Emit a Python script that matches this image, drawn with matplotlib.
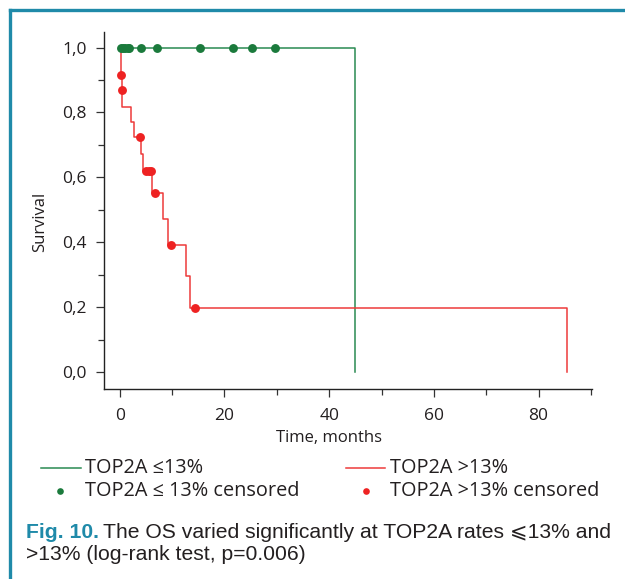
import matplotlib
matplotlib.use("Agg")
import matplotlib.pyplot as plt
from matplotlib.lines import Line2D
from matplotlib.ticker import FixedLocator, FuncFormatter

# ---- data ----
low_line_t = [0.0, 45.0, 45.0]
low_line_s = [1.0, 1.0, 0.0]
low_cens_t = [0.3, 0.7, 1.1, 1.5, 1.8, 4.0, 7.2, 15.3, 21.7, 25.3, 29.7]
low_cens_s = [1.0] * 11

high_step_t = [0.0, 0.30, 0.35, 0.40, 2.2, 2.8, 4.05, 4.4, 6.2, 8.3, 9.2, 12.6, 13.5, 85.4]
high_step_s = [1.0, 0.914, 0.868, 0.818, 0.772, 0.724, 0.672, 0.621, 0.552, 0.472, 0.393, 0.295, 0.197, 0.0]
high_cens_t = [0.33, 0.38, 3.9, 5.0, 5.5, 6.0, 6.7, 9.8, 14.4]
high_cens_s = [0.914, 0.868, 0.724, 0.621, 0.621, 0.621, 0.552, 0.393, 0.197]

x_major = [0, 20, 40, 60, 80]
x_minor = [10, 30, 50, 70, 90]
y_major = [0.0, 0.2, 0.4, 0.6, 0.8, 1.0]
y_minor = [0.1, 0.3, 0.5, 0.7, 0.9]

legend_labels = ["TOP2A \u226413%", "TOP2A >13%",
                 "TOP2A \u2264 13% censored", "TOP2A >13% censored"]

GREEN_LINE = "#2a8a52"
GREEN_DOT = "#1b7a3c"
RED_LINE = "#ee3a3a"
RED_DOT = "#ee2222"
TEAL = "#1f8aa9"
TXT = "#231f20"

W, H = 625, 579
fig = plt.figure(figsize=(W / 100, H / 100), dpi=100)

def fx(x):
    return x / W

def fy(y):
    return 1 - y / H

ax_l, ax_r, ax_t, ax_b = 103.5, 591.5, 32, 389
ax = fig.add_axes([fx(ax_l), fy(ax_b), (ax_r - ax_l) / W, (ax_b - ax_t) / H])

font = ["Open Sans", "DejaVu Sans"]

# steps for high group
hx, hy = [], []
for i, (t, s) in enumerate(zip(high_step_t, high_step_s)):
    if i > 0:
        hx.append(t); hy.append(high_step_s[i - 1])
    hx.append(t); hy.append(s)

ax.plot(low_line_t, low_line_s, color=GREEN_LINE, lw=1.1, zorder=2)
ax.plot(hx, hy, color=RED_LINE, lw=1.1, zorder=3)
ax.plot(low_cens_t, low_cens_s, "o", color=GREEN_DOT, ms=6.4, mew=0, zorder=4)
ax.plot(high_cens_t, high_cens_s, "o", color=RED_DOT, ms=6.4, mew=0, zorder=5)

ax.set_xlim(-3.1, 90.1)
ax.set_ylim(-0.052, 1.048)
for sp in ["top", "right"]:
    ax.spines[sp].set_visible(False)
for sp in ["left", "bottom"]:
    ax.spines[sp].set_color("#222222")
    ax.spines[sp].set_linewidth(1.0)

ax.xaxis.set_major_locator(FixedLocator(x_major))
ax.xaxis.set_minor_locator(FixedLocator(x_minor))
ax.yaxis.set_major_locator(FixedLocator(y_major))
ax.yaxis.set_minor_locator(FixedLocator(y_minor))
ax.yaxis.set_major_formatter(FuncFormatter(lambda v, p: f"{v:.1f}".replace(".", ",")))
ax.tick_params(which="major", direction="out", length=6, width=0.9, color="#333333",
               labelsize=12.5, labelcolor=TXT, pad=6)
ax.tick_params(axis="x", which="major", pad=8)
ax.tick_params(which="minor", direction="out", length=4, width=0.9, color="#333333")
for lab in ax.get_xticklabels() + ax.get_yticklabels():
    lab.set_family(font)

ax.set_xlabel("Time, months", fontsize=12, family=font, color=TXT, labelpad=4)
ax.xaxis.label.set_x(0.462)
ax.set_ylabel("Survival", fontsize=12, family=font, color=TXT, labelpad=10)
ax.yaxis.label.set_y(0.469)

# legend (manual)
def hline(x0, x1, y, color):
    fig.add_artist(Line2D([fx(x0), fx(x1)], [fy(y), fy(y)], color=color, lw=1.1,
                          transform=fig.transFigure))

def dot(x, y, color):
    fig.add_artist(Line2D([fx(x)], [fy(y)], marker="o", ms=4.8, mew=0, color=color,
                          transform=fig.transFigure))

hline(41, 81, 468, GREEN_LINE)
hline(346, 385, 468, RED_LINE)
dot(60, 491, GREEN_DOT)
dot(366, 491, RED_DOT)
lfs = 14.3
fig.text(fx(85), fy(468), legend_labels[0], fontsize=lfs, family=font, color=TXT, va="center")
fig.text(fx(390), fy(468), legend_labels[1], fontsize=lfs, family=font, color=TXT, va="center")
fig.text(fx(85), fy(491), legend_labels[2], fontsize=lfs, family=font, color=TXT, va="center")
fig.text(fx(390), fy(491), legend_labels[3], fontsize=lfs, family=font, color=TXT, va="center")

# caption
cap_font = ["Liberation Sans Narrow", "Liberation Sans", "DejaVu Sans"]
cfs = 15.2
t1 = fig.text(fx(26), fy(532), "Fig. 10.", fontsize=cfs, family=cap_font, weight="bold",
              color=TEAL, va="center")
fig.canvas.draw()
bb = t1.get_window_extent()
fig.text(bb.x1 / (W) + fx(4), fy(532),
         "The OS varied significantly at TOP2A rates \u2a7d13% and",
         fontsize=cfs, family=cap_font, color=TXT, va="center")
fig.text(fx(26), fy(555), ">13% (log-rank test, p=0.006)", fontsize=cfs, family=cap_font,
         color=TXT, va="center")

# teal frame
fig.add_artist(Line2D([fx(10), fx(10)], [fy(10), 0], color=TEAL, lw=2.4, transform=fig.transFigure))
fig.add_artist(Line2D([fx(10), 1], [fy(10), fy(10)], color=TEAL, lw=2.4, transform=fig.transFigure))

fig.savefig("out.png", dpi=100)
